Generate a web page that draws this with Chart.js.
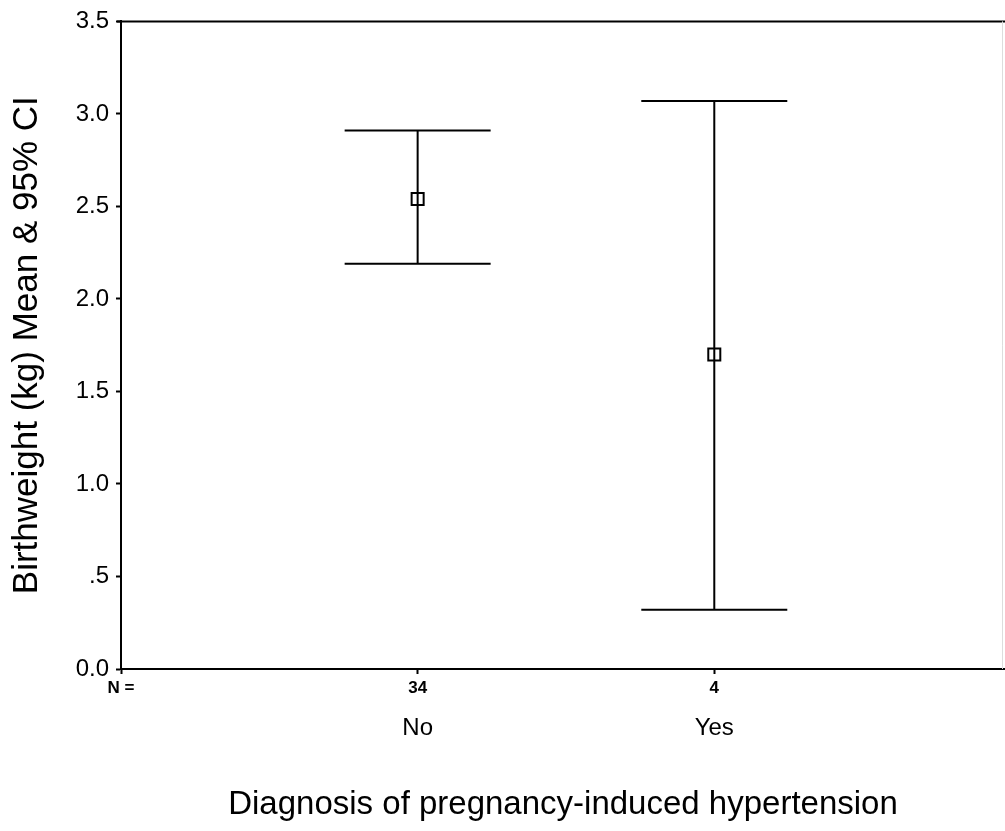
<!DOCTYPE html>
<html>
<head>
<meta charset="utf-8">
<script src="https://cdn.jsdelivr.net/npm/chart.js@4"></script>
<style>
  body { margin: 0; background: #fff; }
  #wrap { width: 1005px; height: 831px; position: relative; }
</style>
</head>
<body>
<div id="wrap"><canvas id="chart"></canvas></div>
<script>
// Data
const categories = ["No", "Yes"];
const nCounts = [34, 4];
const means = [2.54, 1.70];
const lowerCI = [2.19, 0.32];
const upperCI = [2.91, 3.07];
const yTicks = [0, 0.5, 1, 1.5, 2, 2.5, 3, 3.5];

const FONT = "'Liberation Sans', Arial, sans-serif";
const INK = "#000";

// Error bars + frame drawn on top of the points
const errorBars = {
    id: "errorBars",
    afterDatasetsDraw(chart) {
        const { ctx, chartArea, scales } = chart;
        const x = scales.x, y = scales.y;
        ctx.save();
        ctx.strokeStyle = INK;
        ctx.lineWidth = 2;
        categories.forEach((c, i) => {
            const px = x.getPixelForValue(i + 1);
            const top = y.getPixelForValue(upperCI[i]);
            const bot = y.getPixelForValue(lowerCI[i]);
            ctx.beginPath();
            ctx.moveTo(px, top); ctx.lineTo(px, bot);
            ctx.moveTo(px - 73, top); ctx.lineTo(px + 73, top);
            ctx.moveTo(px - 73, bot); ctx.lineTo(px + 73, bot);
            ctx.stroke();
        });
        // top frame line
        ctx.beginPath();
        ctx.moveTo(chartArea.left - 4, chartArea.top);
        ctx.lineTo(chartArea.right, chartArea.top);
        ctx.stroke();
        // faint right edge
        ctx.strokeStyle = "#ddd";
        ctx.lineWidth = 1;
        ctx.beginPath();
        ctx.moveTo(chartArea.right - 2.5, chartArea.top);
        ctx.lineTo(chartArea.right - 2.5, chartArea.bottom);
        ctx.stroke();
        ctx.restore();
    },
};

const noSidePadding = (h) => (s) => { s.height = h; s.paddingLeft = 0; s.paddingRight = 0; };

new Chart(document.getElementById("chart"), {
    type: "scatter",
    data: {
        datasets: [
            {
                data: means.map((m, i) => ({ x: i + 1, y: m })),
                pointStyle: "rect",
                pointRadius: 8.5,
                pointHoverRadius: 8.5,
                pointBackgroundColor: "#fff",
                pointBorderColor: INK,
                pointBorderWidth: 2,
            },
        ],
    },
    options: {
        responsive: true,
        maintainAspectRatio: false,
        animation: false,
        layout: { autoPadding: false, padding: { top: 21, right: 0, left: 0, bottom: 0 } },
        plugins: {
            legend: { display: false },
            tooltip: { enabled: false },
        },
        scales: {
            y: {
                min: 0,
                max: 3.5,
                afterBuildTicks: (s) => { s.ticks = yTicks.map((v) => ({ value: v })); },
                afterFit: (s) => { s.width = 121; },
                ticks: {
                    color: INK,
                    padding: 7,
                    font: { family: FONT, size: 24 },
                    callback: (v) => (v === 0 ? "0.0" : v < 1 ? ".5" : v.toFixed(1)),
                },
                grid: { drawOnChartArea: false, tickLength: 5, color: INK, tickWidth: 2 },
                border: { color: INK, width: 2 },
                title: {
                    display: true,
                    text: "Birthweight (kg) Mean & 95% CI",
                    color: INK,
                    font: { family: FONT, size: 35 },
                    padding: { top: 6, bottom: 0 },
                },
            },
            x: {
                type: "linear",
                position: "bottom",
                min: 0,
                max: 2.98,
                afterBuildTicks: (s) => { s.ticks = [0, 1, 2].map((v) => ({ value: v })); },
                afterFit: noSidePadding(34),
                ticks: {
                    color: INK,
                    padding: 4,
                    font: { family: FONT, size: 17, weight: "bold" },
                    callback: (v) => (v === 0 ? "N =" : String(nCounts[v - 1])),
                },
                grid: { drawOnChartArea: false, tickLength: 5, color: INK, tickWidth: 2 },
                border: { color: INK, width: 2 },
            },
            x2: {
                type: "linear",
                position: "bottom",
                min: 0,
                max: 2.98,
                afterBuildTicks: (s) => { s.ticks = [1, 2].map((v) => ({ value: v })); },
                afterFit: noSidePadding(128),
                ticks: {
                    color: INK,
                    padding: 3,
                    font: { family: FONT, size: 24 },
                    callback: (v) => categories[v - 1],
                },
                grid: { display: false },
                border: { display: false },
                title: {
                    display: true,
                    text: "Diagnosis of pregnancy-induced hypertension",
                    color: INK,
                    font: { family: FONT, size: 33 },
                    padding: { top: 0, bottom: 6 },
                },
            },
        },
    },
    plugins: [errorBars],
});
</script>
</body>
</html>
